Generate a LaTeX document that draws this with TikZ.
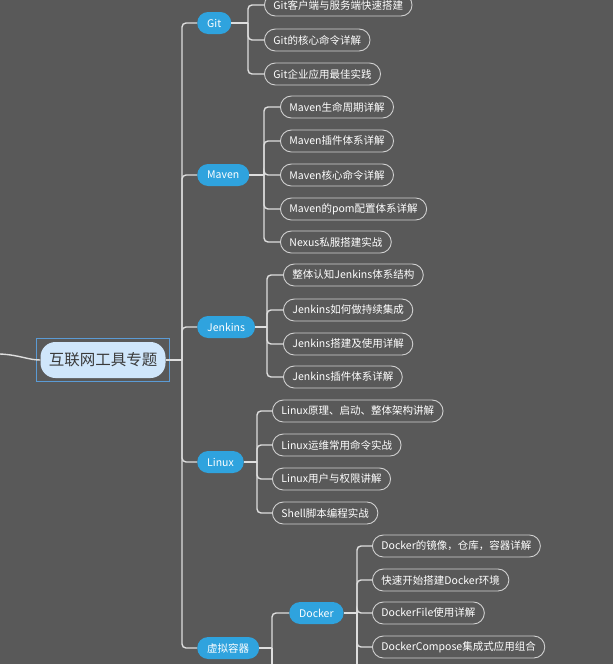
\documentclass[tikz,border=0pt]{standalone}
\usepackage{fontspec}
\setmainfont{Noto Sans CJK SC}
\definecolor{bg}{HTML}{595959}
\definecolor{linegray}{HTML}{DEDEDE}
\definecolor{leafgray}{HTML}{D0D0D0}
\definecolor{nodeblue}{HTML}{2FA3DE}
\definecolor{rootblue}{HTML}{CFE6FB}
\definecolor{roottext}{HTML}{3A3A3A}
\definecolor{selblue}{HTML}{5B9BD5}

\begin{document}
\begin{tikzpicture}[x=1pt,y=-1pt,
    line/.style={draw=linegray,line width=1.4pt,rounded corners=4pt},
    topic node/.style={fill=rootblue,text=roottext,rounded corners=15pt,
      minimum width=125pt,minimum height=36pt,font=\fontsize{15.5}{18}\selectfont},
    main node/.style={fill=nodeblue,text=white,rounded corners=11pt,anchor=west,
      minimum height=22pt,inner xsep=10pt,font=\fontsize{10.5}{12}\selectfont},
    leaf node/.style={draw=leafgray,line width=0.9pt,text=white,rounded corners=11pt,
      anchor=west,minimum height=22pt,inner xsep=9pt,font=\fontsize{10.5}{12}\selectfont}]

  % background and page size
  \fill[bg] (0,0) rectangle (613,664);
  \useasboundingbox (0,0) rectangle (613,664);

  % root
  \node[topic node] (topic) at (103,360) {互联网工具专题};
  \draw[selblue,line width=1.3pt] ([shift={(-3.5,-3.5)}]topic.north west) rectangle ([shift={(3.5,3.5)}]topic.south east);
  \coordinate (in) at (0,354);
  \draw[line] (in) .. controls (20,355) and (28,360) .. (topic.west);

  % first level
  \node[main node] (git) at (197,23) {Git};
  \node[main node] (maven) at (197,175) {Maven};
  \node[main node] (jenkins) at (197,327) {Jenkins};
  \node[main node] (linux) at (197,462) {Linux};
  \node[main node] (vm) at (197,648) {虚拟容器};

  \coordinate (hub) at (182,360);
  \draw[line] (topic.east) -- (hub);
  \foreach \c in {git,maven,jenkins,linux,vm}
    \draw[line] (hub) |- (\c.west);

  % junctions
  \coordinate (git-j) at (248,23);
  \coordinate (maven-j) at (264,175);
  \coordinate (jenkins-j) at (267,327);
  \coordinate (linux-j) at (257,462);
  \coordinate (vm-j) at (272,648);
  \coordinate (docker-j) at (357,613);
  \foreach \c in {git,maven,jenkins,linux,vm}
    \draw[line] (\c.east) -- (\c-j);

  % Git
  \foreach \y/\t [count=\i] in {5/Git客户端与服务端快速搭建,40/Git的核心命令详解,74/Git企业应用最佳实践}{
    \node[leaf node] (git\i) at (264,\y) {\t};
    \draw[line] (git-j) |- (git\i.west);
  }

  % Maven
  \foreach \y/\t [count=\i] in {107/Maven生命周期详解,141/Maven插件体系详解,175/Maven核心命令详解,
      209/Maven的pom配置体系详解,242/Nexus私服搭建实战}{
    \node[leaf node] (maven\i) at (280,\y) {\t};
    \draw[line] (maven-j) |- (maven\i.west);
  }

  % Jenkins
  \foreach \y/\t [count=\i] in {275/整体认知Jenkins体系结构,310/Jenkins如何做持续集成,
      344/Jenkins搭建及使用详解,377/Jenkins插件体系详解}{
    \node[leaf node] (jenkins\i) at (283,\y) {\t};
    \draw[line] (jenkins-j) |- (jenkins\i.west);
  }

  % Linux
  \foreach \y/\t [count=\i] in {411/Linux原理、启动、整体架构讲解,445/Linux运维常用命令实战,
      479/Linux用户与权限讲解,513/Shell脚本编程实战}{
    \node[leaf node] (linux\i) at (272,\y) {\t};
    \draw[line] (linux-j) |- (linux\i.west);
  }

  % virtual containers
  \node[main node] (docker) at (289,613) {Docker};
  \draw[line] (vm-j) |- (docker.west);
  \coordinate (vm-more) at (272,670);
  \draw[line] (vm-j) -- (vm-more);
  \draw[line] (docker.east) -- (docker-j);

  \foreach \y/\t [count=\i] in {546/Docker的镜像，仓库，容器详解,580/快速开始搭建Docker环境,
      613/DockerFile使用详解,647/DockerCompose集成式应用组合}{
    \node[leaf node] (docker\i) at (372,\y) {\t};
    \draw[line] (docker-j) |- (docker\i.west);
  }
  \coordinate (docker-more) at (357,670);
  \draw[line] (docker-j) -- (docker-more);
\end{tikzpicture}
\end{document}
